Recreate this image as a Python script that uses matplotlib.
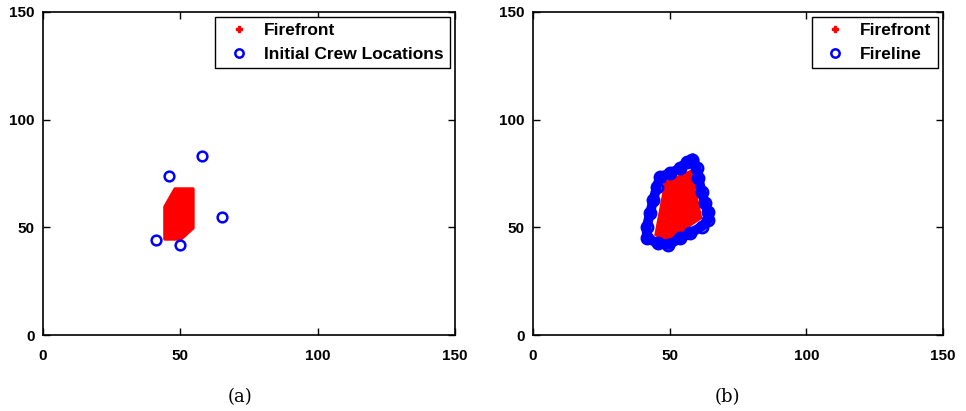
import matplotlib
matplotlib.use("Agg")
import matplotlib.pyplot as plt
from matplotlib.lines import Line2D

# ---- data ----
# panel (a): firefront outline and initial crew positions
front_a_x = [48.1, 54.6, 54.6, 50.2, 44.4, 44.4]
front_a_y = [67.8, 67.8, 49.7, 44.6, 44.6, 59.5]
crew_x = [41, 46, 58, 65, 50]
crew_y = [44, 74, 83, 55, 42]

# panel (b): firefront outline and fireline ring
front_b_x = [58.1, 59.9, 61.7, 48.9, 44.6, 48.3]
front_b_y = [76.6, 65.0, 54.2, 43.3, 46.4, 71.2]
line_x = [58.1, 59.9, 60.5, 61.7, 62.9, 64.1, 64.1, 61.7, 57.4, 53.8, 49.5,
          45.8, 41.6, 41.6, 42.8, 44.0, 45.3, 46.5, 50.1, 53.8, 56.2, 58.1]
line_y = [81.3, 77.4, 72.8, 66.6, 61.2, 57.3, 53.4, 50.3, 47.2, 44.9, 41.8,
          42.6, 44.9, 50.3, 56.5, 62.7, 68.9, 73.5, 75.1, 77.4, 80.5, 81.3]

ticks = [0, 50, 100, 150]
captions = ["(a)", "(b)"]
caption_x = [0.248, 0.753]

plt.rcParams["font.family"] = ["Liberation Sans", "DejaVu Sans"]
plt.rcParams["font.weight"] = "bold"

fig = plt.figure(figsize=(9.66, 4.11), dpi=100)
ax_a = fig.add_axes([0.0445, 0.1849, 0.4265, 0.786])
ax_b = fig.add_axes([0.5518, 0.1849, 0.4244, 0.786])


def style_axis(ax):
    ax.set_xlim(0, 150)
    ax.set_ylim(0, 150)
    ax.set_xticks(ticks)
    ax.set_yticks(ticks)
    ax.tick_params(direction="in", length=5, width=1, top=True, right=True,
                   labelsize=11)
    ax.tick_params(axis="x", pad=10)
    ax.tick_params(axis="y", pad=6)
    for lab in ax.get_xticklabels() + ax.get_yticklabels():
        lab.set_fontweight("bold")
    for sp in ax.spines.values():
        sp.set_linewidth(1.2)


def add_legend(ax, labels):
    handles = [
        Line2D([], [], marker="P", ls="none", color="red", ms=5),
        Line2D([], [], marker="o", ls="none", mfc="none", mec="blue",
               mew=1.8, ms=6),
    ]
    ax.legend(handles, labels, loc="upper right", fancybox=False,
              edgecolor="black", framealpha=1, borderaxespad=0.3,
              prop={"size": 12.5, "weight": "bold"}, handlelength=2.0,
              labelspacing=0.5, borderpad=0.35, handletextpad=0.45)


# (a)
ax_a.fill(front_a_x, front_a_y, color="red", lw=2.5, ec="red",
          joinstyle="round")
ax_a.plot(crew_x, crew_y, "o", ls="none", ms=7, mfc="none", mec="blue", mew=1.8)
add_legend(ax_a, ["Firefront", "Initial Crew Locations"])
style_axis(ax_a)

# (b)
ax_b.fill(front_b_x, front_b_y, color="red", lw=1, ec="red", zorder=2)
ax_b.plot(line_x, line_y, "-", color="blue", lw=7, solid_joinstyle="round",
          zorder=3)
ax_b.plot(line_x, line_y, "o", ls="none", ms=8, mfc="none", mec="blue",
          mew=2, zorder=3)
add_legend(ax_b, ["Firefront", "Fireline"])
style_axis(ax_b)

for cx, cap in zip(caption_x, captions):
    fig.text(cx, 0.034, cap, ha="center", va="center", fontsize=13,
             fontfamily="DejaVu Serif", fontweight="normal")

fig.savefig("out.png", dpi=100)
